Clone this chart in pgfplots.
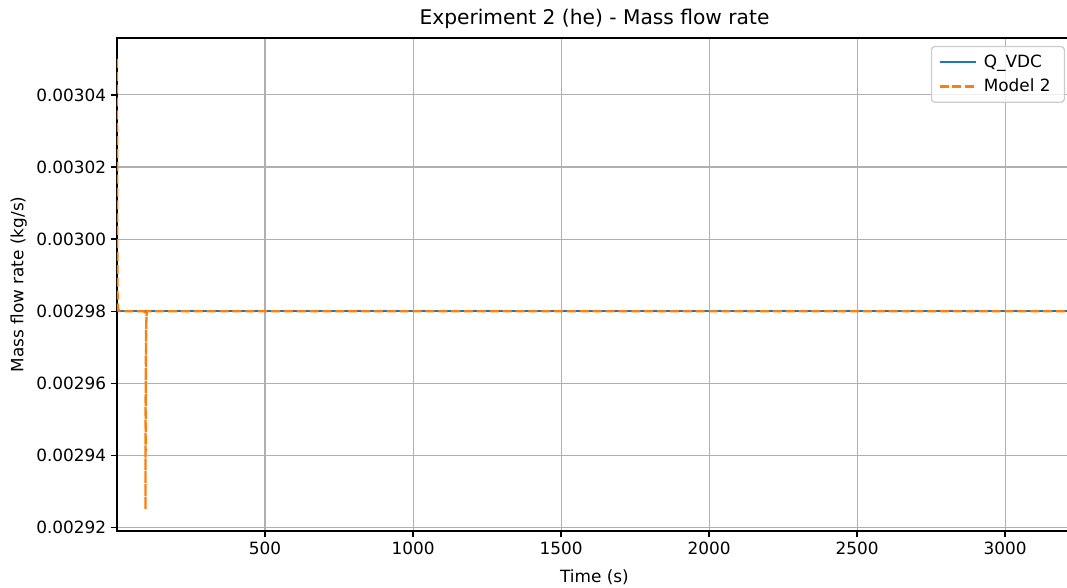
\documentclass[border=0pt]{standalone}
\usepackage{pgfplots}
\pgfplotsset{compat=1.18}
\usepackage{fontspec}
\setmainfont{DejaVu Sans}
\definecolor{mplblue}{HTML}{1F77B4}
\definecolor{mplorange}{HTML}{FF7F0E}
\definecolor{gridgray}{HTML}{B0B0B0}
\definecolor{legframe}{HTML}{CCCCCC}
\begin{document}
\begin{tikzpicture}
\begin{axis}[
  at={(0,0)}, anchor=south west,
  scale only axis,
  width=9.55in, height=4.93in,
  xmin=0, xmax=3226,
  ymin=0.002919, ymax=0.0030558,
  xtick={500,1000,1500,2000,2500,3000},
  ytick={0.00292,0.00294,0.00296,0.00298,0.00300,0.00302,0.00304},
  scaled y ticks=false,
  scaled x ticks=false,
  yticklabel style={/pgf/number format/.cd, fixed, precision=5, fixed zerofill},
  xticklabel style={/pgf/number format/.cd, fixed, 1000 sep={}},
  /pgf/number format/assume math mode=true,
  tick align=outside,
  tick pos=left,
  major tick length=4.3pt,
  tick style={black, line width=0.9pt},
  axis line style={black, line width=0.9pt},
  grid=major,
  major grid style={gridgray, line width=0.75pt},
  title={Experiment 2 (he) - Mass flow rate},
  title style={font=\fontsize{14.6}{17}\selectfont, yshift=-3pt},
  xlabel={Time (s)},
  ylabel={Mass flow rate (kg/s)},
  xlabel style={yshift=-4pt},
  tick label style={font=\fontsize{12.2}{14}\selectfont},
  label style={font=\fontsize{12.2}{14}\selectfont},
  legend style={at={(0.9927,0.984)}, anchor=north east, draw=legframe, rounded corners=2.5pt,
    fill=white, fill opacity=0.8, text opacity=1, font=\fontsize{12.2}{14}\selectfont,
    inner xsep=5pt, inner ysep=4pt, row sep=3pt, line width=0.9pt,
    nodes={inner xsep=5pt}},
  legend cell align=left,
  legend image code/.code={\draw[#1] (0cm,0cm) -- (0.92cm,0cm);},
]
\addplot[mplblue, line width=1.65pt] coordinates {
  (0,0.00298) (3226,0.00298)
};
\addlegendentry{Q\_VDC}
\addplot[mplorange, line width=1.65pt, dash pattern=on 6.5pt off 2.8pt] coordinates {
  (0,0.00305) (1,0.00300) (2,0.002985) (4,0.0029805) (10,0.00298)
  (60,0.00298) (90,0.00298) (95,0.0029795) (100,0.0029785)
  (98,0.002975) (97,0.00296) (96,0.002945) (96,0.002925)
  (97,0.00295) (98,0.00297) (99,0.0029785) (102,0.00298)
  (500,0.00298) (1500,0.00298) (3226,0.00298)
};
\addlegendentry{Model 2}
\end{axis}
\pgfresetboundingbox
\path (-1.17in,-0.57in) rectangle (9.5in,5.31in);
\end{tikzpicture}
\end{document}
